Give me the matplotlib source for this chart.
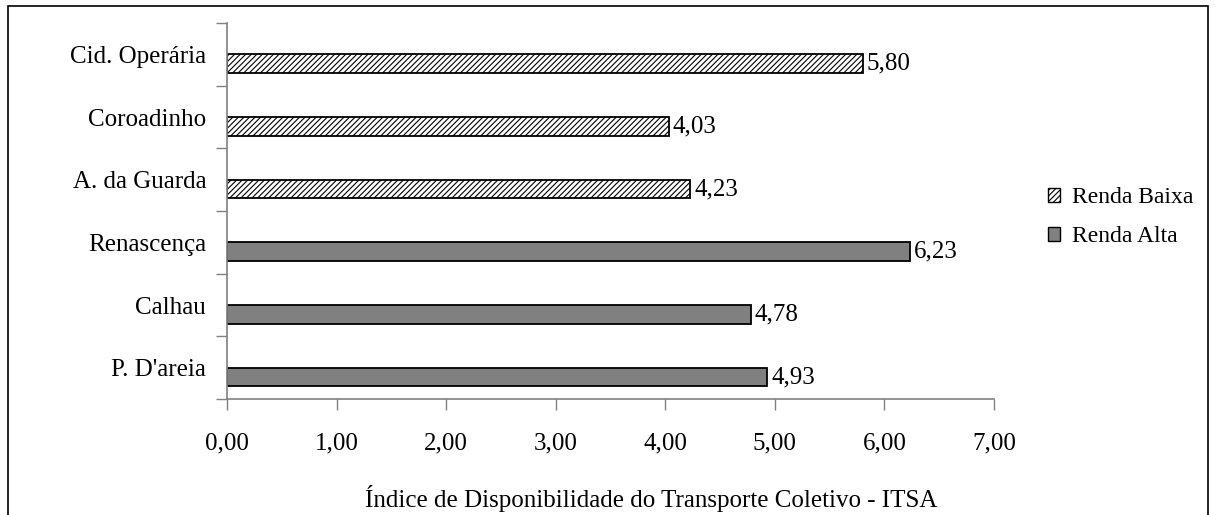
import numpy as np
import matplotlib
matplotlib.use('Agg')
import matplotlib.pyplot as plt
from matplotlib.patches import Patch, Rectangle

categories = ['Cid. Operária', 'Coroadinho', 'A. da Guarda', 'Renascença', 'Calhau', "P. D'areia"]
values = [5.80, 4.03, 4.23, 6.23, 4.78, 4.93]
groups = ['Renda Baixa', 'Renda Baixa', 'Renda Baixa', 'Renda Alta', 'Renda Alta', 'Renda Alta']
xticks = [0, 1, 2, 3, 4, 5, 6, 7]

plt.rcParams.update({'font.family': ['Liberation Serif', 'DejaVu Serif'],
                     'font.size': 18,
                     'hatch.linewidth': 0.8})

fig = plt.figure(figsize=(12.15, 5.15), dpi=100)
ax = fig.add_axes([0.1868, 0.2252, 0.6313, 0.7301])

style = {'Renda Baixa': dict(color='white', hatch='//////'),
         'Renda Alta': dict(color='#808080', hatch=None)}

# excel-style clustered bars: each bar sits in its own slot, a bit below centre
off = 0.15
y = np.arange(len(categories))
for i, (v, g) in enumerate(zip(values, groups)):
    ax.barh(y[i] + off, v, height=0.30, color=style[g]['color'], hatch=style[g]['hatch'],
            edgecolor='black', linewidth=1.3)
    ax.text(v + 0.035, y[i] + off, ('%.2f' % v).replace('.', ','), va='center', ha='left')

ax.set_ylim(len(categories) - 0.5, -0.5)
ax.set_xlim(0, 7)
ax.set_yticks(np.arange(-0.5, len(categories), 1.0))
ax.set_yticklabels([])
ax.set_yticks(y, minor=True)
ax.set_yticklabels(categories, minor=True)
ax.tick_params(axis='y', which='minor', length=0, pad=15)
ax.tick_params(axis='y', which='major', length=8, color='#808080', width=1)
ax.set_xticks(xticks)
ax.set_xticklabels([('%.2f' % t).replace('.', ',') for t in xticks])
ax.tick_params(axis='x', length=8, color='#808080', width=1, pad=16)
for s in ['top', 'right']:
    ax.spines[s].set_visible(False)
for s in ['left', 'bottom']:
    ax.spines[s].set_color('#808080')
    ax.spines[s].set_linewidth(1.2)
ax.set_xlabel('Índice de Disponibilidade do Transporte Coletivo - ITSA')
ax.xaxis.set_label_coords(0.553, -0.228)

handles = [Patch(facecolor='white', edgecolor='black', hatch='//////', label='Renda Baixa'),
           Patch(facecolor='#808080', edgecolor='black', label='Renda Alta')]
fig.legend(handles=handles, loc='center left', bbox_to_anchor=(0.845, 0.578), frameon=False,
           fontsize=17, handlelength=0.5, handleheight=0.5, handletextpad=0.5, labelspacing=0.75)

fig.patches.append(Rectangle((8 / 1215, -0.01), (1208 - 8) / 1215, (515 - 6) / 515 + 0.01,
                             transform=fig.transFigure, fill=False, edgecolor='black', linewidth=1.2))

plt.savefig('out.png', dpi=100)
